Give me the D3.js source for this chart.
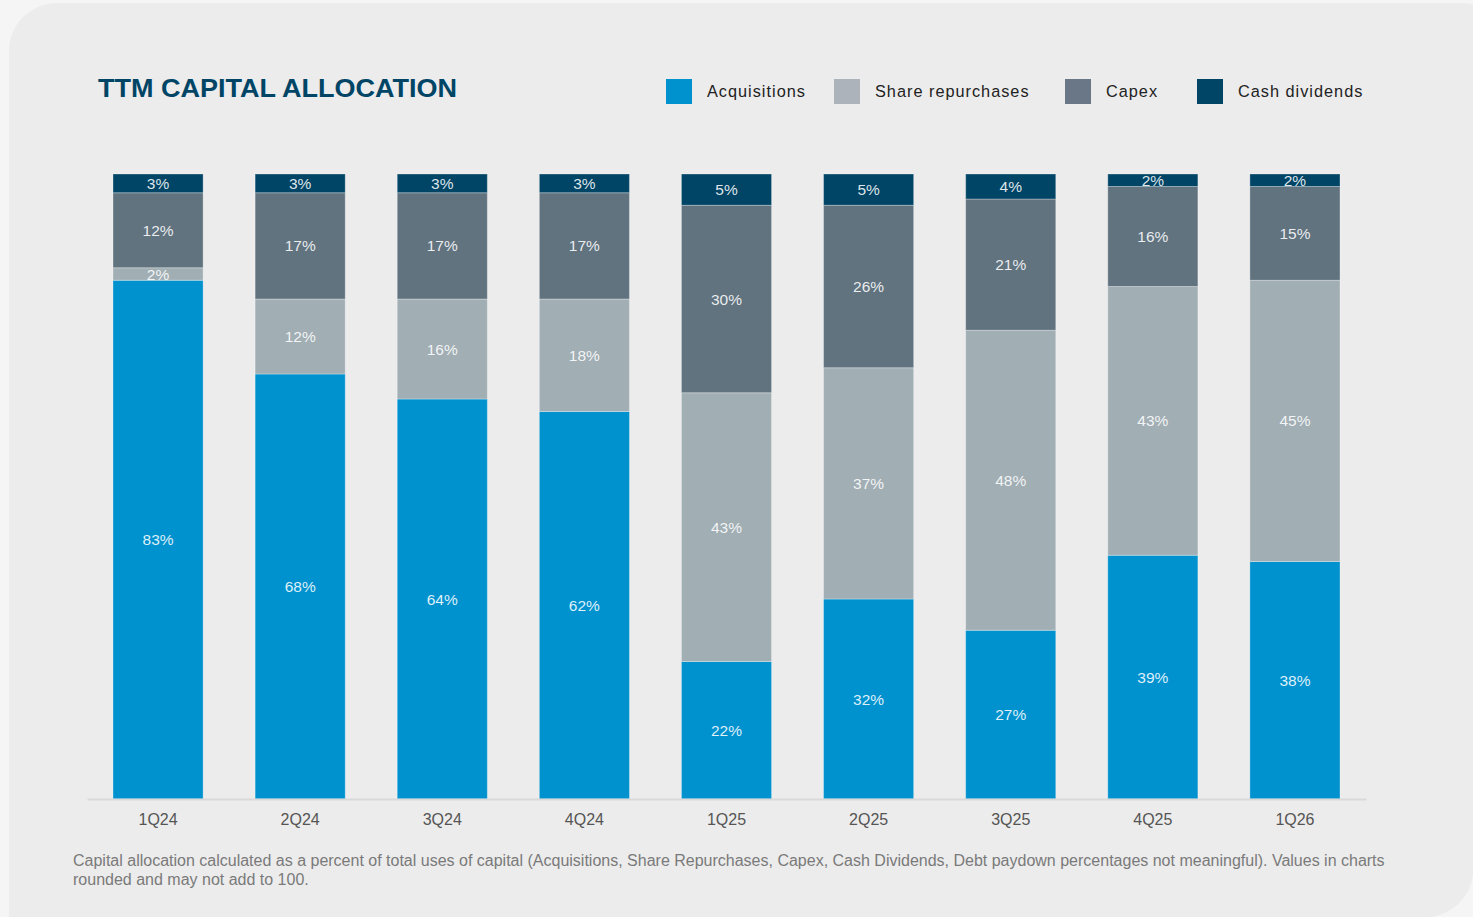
<!DOCTYPE html>
<html>
<head>
<meta charset="utf-8">
<script src="https://cdn.jsdelivr.net/npm/d3@7"></script>
<style>
  html, body { margin: 0; padding: 0; background: #f5f5f5; }
  svg { display: block; }
</style>
</head>
<body>
<svg id="chart" width="1473" height="917"></svg>
<script>
// Trailing-twelve-month capital allocation, percent of total uses of capital
const quarters = ["1Q24", "2Q24", "3Q24", "4Q24", "1Q25", "2Q25", "3Q25", "4Q25", "1Q26"];
const acquisitions = [83, 68, 64, 62, 22, 32, 27, 39, 38];
const shareRepurchases = [2, 12, 16, 18, 43, 37, 48, 43, 45];
const capex = [12, 17, 17, 17, 30, 26, 21, 16, 15];
const cashDividends = [3, 3, 3, 3, 5, 5, 4, 2, 2];
const seriesNames = ["Acquisitions", "Share repurchases", "Capex", "Cash dividends"];
const yTicks = [0, 100];

const barColors = ["#0092cf", "#a1aeb4", "#61737f", "#004566"];
const legendColors = ["#0092cf", "#adb3ba", "#697787", "#004566"];

const font = "'Liberation Sans', Arial, Helvetica, sans-serif";
const svg = d3.select("#chart");

// rounded panel behind the chart
svg.append("rect")
  .attr("x", 9).attr("y", 3)
  .attr("width", 1500).attr("height", 960)
  .attr("rx", 48)
  .attr("fill", "#ececec");

// bottom-right rounded corner of the panel
svg.append("path")
  .attr("d", "M1473,875 A48,48 0 0 1 1428,917 L1473,917 Z")
  .attr("fill", "#f5f5f5");

const rows = quarters.map((q, i) => ({
  quarter: q,
  "Acquisitions": acquisitions[i],
  "Share repurchases": shareRepurchases[i],
  "Capex": capex[i],
  "Cash dividends": cashDividends[i]
}));

const stacked = d3.stack().keys(seriesNames)(rows);

const x = d3.scaleBand()
  .domain(quarters)
  .range([87, 1366])
  .paddingInner(0.366)
  .paddingOuter(0.183);

const y = d3.scaleLinear()
  .domain(d3.extent(yTicks))
  .range([799, 174]);

const color = d3.scaleOrdinal().domain(seriesNames).range(barColors);

// stacked bars
const layers = svg.append("g").selectAll("g")
  .data(stacked)
  .join("g")
  .attr("fill", d => color(d.key));

layers.selectAll("rect")
  .data(d => d)
  .join("rect")
  .attr("x", d => x(d.data.quarter))
  .attr("y", d => y(d[1]))
  .attr("width", x.bandwidth())
  .attr("height", d => y(d[0]) - y(d[1]))
  .attr("stroke", "rgba(255,255,255,0.3)")
  .attr("stroke-width", 1);

// value labels centred in each segment
const labels = svg.append("g")
  .attr("font-family", font)
  .attr("font-size", 15.5)
  .attr("text-anchor", "middle")
  .attr("fill", "#ffffff")
  .attr("fill-opacity", 0.88);

stacked.forEach(layer => {
  labels.selectAll(null)
    .data(layer)
    .join("text")
    .attr("x", d => x(d.data.quarter) + x.bandwidth() / 2)
    .attr("y", d => (y(d[0]) + y(d[1])) / 2)
    .attr("dy", "0.36em")
    .text(d => `${d[1] - d[0]}%`);
});

// x axis
const xAxis = svg.append("g")
  .attr("transform", "translate(0,799)")
  .call(d3.axisBottom(x).tickSize(0).tickPadding(15));
xAxis.select(".domain").attr("stroke", "#d9d9d9").attr("stroke-width", 2);
xAxis.selectAll("text")
  .attr("font-family", font)
  .attr("font-size", 16)
  .attr("fill", "#555555");

// title
svg.append("text")
  .attr("x", 98).attr("y", 97)
  .attr("font-family", font)
  .attr("font-size", 26)
  .attr("font-weight", "bold")
  .attr("fill", "#004566")
  .attr("textLength", 359)
  .attr("lengthAdjust", "spacingAndGlyphs")
  .text("TTM CAPITAL ALLOCATION");

// legend
const legendX = [666, 834, 1065, 1197];
const legend = svg.append("g")
  .selectAll("g")
  .data(seriesNames)
  .join("g")
  .attr("transform", (d, i) => `translate(${legendX[i]},79)`);

legend.append("rect")
  .attr("width", 26).attr("height", 25)
  .attr("fill", (d, i) => legendColors[i]);

legend.append("text")
  .attr("x", 41).attr("y", 18)
  .attr("font-family", font)
  .attr("font-size", 16.3)
  .attr("letter-spacing", "1px")
  .attr("fill", "#222222")
  .text(d => d);

// footnote
const note = svg.append("text")
  .attr("font-family", font)
  .attr("font-size", 16)
  .attr("fill", "#7a7a7a");
note.append("tspan")
  .attr("x", 73).attr("y", 866)
  .text("Capital allocation calculated as a percent of total uses of capital (Acquisitions, Share Repurchases, Capex, Cash Dividends, Debt paydown percentages not meaningful). Values in charts");
note.append("tspan")
  .attr("x", 73).attr("y", 885)
  .text("rounded and may not add to 100.");
</script>
</body>
</html>
